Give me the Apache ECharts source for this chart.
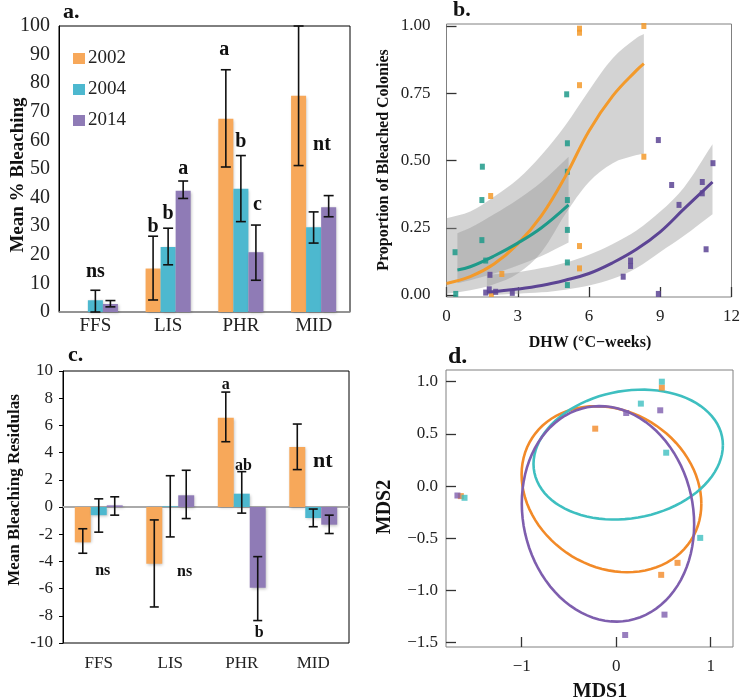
<!DOCTYPE html>
<html>
<head>
<meta charset="utf-8">
<script src="https://cdn.jsdelivr.net/npm/echarts@6/dist/echarts.min.js"></script>
<style>
  html, body { margin: 0; padding: 0; background: #fff; }
  #main { width: 743px; height: 699px; }
</style>
</head>
<body>
<div id="main"></div>
<script>
// ---- data ----
const sites = ['FFS', 'LIS', 'PHR', 'MID'];
const years = ['2002', '2004', '2014'];

// a. mean % bleaching
const pct2002 = [null, 15.2, 67.6, 75.6];
const pct2004 = [4.1, 22.7, 43.1, 29.6];
const pct2014 = [2.8, 42.4, 20.9, 36.6];
const pctLow2002 = [null, 4.2, 50.7, 51.2];
const pctHigh2002 = [null, 26.5, 84.7, 100];
const pctLow2004 = [0, 16.5, 31.6, 24.1];
const pctHigh2004 = [7.6, 29.3, 54.7, 35.0];
const pctLow2014 = [1.8, 39.7, 11.1, 33.3];
const pctHigh2014 = [4.0, 45.8, 30.4, 40.7];
// [site, bar slot, value, text]
const pctNotes = [
  ['FFS', 0, 14, 'ns'], ['LIS', -1, 29.7, 'b'], ['LIS', 0, 34.4, 'b'], ['LIS', 1, 50.1, 'a'],
  ['PHR', -1.1, 91.5, 'a'], ['PHR', 0, 59.4, 'b'], ['PHR', 1.1, 37.6, 'c'], ['MID', 0.55, 58.3, 'nt']
];

// c. mean bleaching residuals
const res2002 = [-2.6, -4.17, 6.57, 4.41];
const res2004 = [-0.6, 0.05, 0.98, -0.81];
const res2014 = [0.12, 0.86, -5.93, -1.3];
const resLow2002 = [-3.4, -7.35, 4.8, 2.75];
const resHigh2002 = [-1.6, -0.95, 8.45, 6.1];
const resLow2004 = [-1.85, -2.2, -0.45, -1.45];
const resHigh2004 = [0.6, 2.3, 2.6, -0.15];
const resLow2014 = [-0.6, -0.85, -8.35, -1.95];
const resHigh2014 = [0.75, 2.7, -3.65, -0.6];
const resNotes = [
  ['FFS', 0.25, -4.66, 'ns'], ['LIS', 0.9, -4.78, 'ns'], ['PHR', -1, 8.95, 'a'],
  ['PHR', 0.1, 3.06, 'ab'], ['PHR', 1.1, -9.26, 'b'], ['MID', 0.6, 3.38, 'nt']
];

// b. proportion of bleached colonies vs DHW
const dhw2002 = [5.6, 5.6, 8.31, 5.6, 8.31, 1.86, 5.6, 5.6, 2.33, 1.89];
const prop2002 = [0.99, 0.975, 1.0, 0.78, 0.514, 0.368, 0.182, 0.099, 0.078, 0.004];
const dhw2004 = [5.06, 5.09, 1.51, 1.49, 5.09, 5.09, 5.09, 1.49, 0.36, 1.65, 5.09, 5.09, 0.39];
const prop2004 = [0.746, 0.564, 0.477, 0.353, 0.458, 0.353, 0.242, 0.204, 0.159, 0.128, 0.121, 0.037, 0.004];
const dhw2014 = [8.92, 11.22, 10.77, 9.48, 9.79, 10.77, 10.93, 7.75, 7.75, 7.44, 1.83, 1.8, 1.65, 2.07, 2.77, 8.92];
const prop2014 = [0.576, 0.49, 0.42, 0.409, 0.335, 0.378, 0.17, 0.128, 0.108, 0.068, 0.075, 0.021, 0.009, 0.012, 0.008, 0.004];

// fitted curves and confidence bands
const fitX2002 = [0, 1, 2, 3, 4, 5, 6, 7, 8, 8.31];
const fitY2002 = [0.043, 0.068, 0.115, 0.19, 0.295, 0.44, 0.61, 0.74, 0.835, 0.86];
const bandLow2002 = [0.005, 0.018, 0.04, 0.08, 0.16, 0.3, 0.42, 0.49, 0.52, 0.525];
const bandHigh2002 = [0.285, 0.31, 0.365, 0.43, 0.52, 0.63, 0.76, 0.88, 0.955, 0.97];
const fitX2004 = [0.46, 1, 2, 3, 4, 5.14];
const fitY2004 = [0.093, 0.105, 0.145, 0.193, 0.25, 0.335];
const bandLow2004 = [0.044, 0.055, 0.08, 0.11, 0.145, 0.195];
const bandHigh2004 = [0.23, 0.25, 0.3, 0.355, 0.42, 0.514];
const fitX2014 = [1.7, 3, 4, 5, 6, 7, 8, 9, 10, 11.2];
const fitY2014 = [0.01, 0.022, 0.035, 0.055, 0.08, 0.12, 0.17, 0.235, 0.32, 0.42];
const bandLow2014 = [0, 0.005, 0.01, 0.02, 0.035, 0.06, 0.1, 0.16, 0.22, 0.3];
const bandHigh2014 = [0.075, 0.085, 0.1, 0.12, 0.15, 0.19, 0.24, 0.31, 0.4, 0.56];

// d. MDS ordination
const mds1_2002 = [0.483, -0.222, 0.649, 0.476, -1.644];
const mds2_2002 = [0.943, 0.55, -0.735, -0.85, -0.096];
const mds1_2004 = [0.483, 0.261, 0.529, 0.889, -1.605];
const mds2_2004 = [1.0, 0.79, 0.32, -0.496, -0.112];
const mds1_2014 = [0.106, 0.466, 0.511, 0.095, -1.68];
const mds2_2014 = [0.70, 0.726, -1.231, -1.426, -0.09];
// ellipse: centre, half width, half height, y shift of the rightmost point
const ellCx = [-0.05, 0.127, -0.087];
const ellCy = [-0.03, 0.302, -0.266];
const ellRx = [0.951, 1.002, 0.912];
const ellRy = [0.795, 0.622, 1.032];
const ellTilt = [-0.14, 0.09, -0.10];

const barCols = ['#F7A85A', '#4DB8CF', '#8F7BB6'];
const fitCols = ['#F39A2B', '#1E9A8A', '#5C4494'];
const mdsCols = ['#F28A28', '#3EBFC0', '#7E5EAE'];
const serif = 'Liberation Serif';

const chart = echarts.init(document.getElementById('main'));

const zip = (a, b) => a.map((v, i) => [v, b[i]]);

function errorData(lows, highs, step) {
  const out = [];
  lows.forEach((lo, j) => {
    lo.forEach((v, i) => {
      if (v != null) out.push([i + (j - 1) * step, v, highs[j][i]]);
    });
  });
  return out;
}

function errorSeries(xi, yi, data, cap) {
  return {
    type: 'custom', xAxisIndex: xi, yAxisIndex: yi, data: data, silent: true, z: 5,
    encode: { x: 0, y: [1, 2] },
    renderItem: function (params, api) {
      const x = api.value(0);
      const p1 = api.coord([x, api.value(1)]);
      const p2 = api.coord([x, api.value(2)]);
      const st = { stroke: '#111', lineWidth: 1.6 };
      return {
        type: 'group', children: [
          { type: 'line', shape: { x1: p1[0], y1: p1[1], x2: p2[0], y2: p2[1] }, style: st },
          { type: 'line', shape: { x1: p1[0] - cap, y1: p1[1], x2: p1[0] + cap, y2: p1[1] }, style: st },
          { type: 'line', shape: { x1: p2[0] - cap, y1: p2[1], x2: p2[0] + cap, y2: p2[1] }, style: st }
        ]
      };
    }
  };
}

function noteSeries(xi, yi, notes, step, sizeFn) {
  return {
    type: 'custom', xAxisIndex: xi, yAxisIndex: yi, silent: true, z: 6,
    data: notes.map(n => [sites.indexOf(n[0]) + n[1] * step, n[2]]),
    renderItem: function (params, api) {
      const p = api.coord([api.value(0), api.value(1)]);
      const txt = notes[params.dataIndex][3];
      return {
        type: 'text', x: p[0], y: p[1],
        style: { text: txt, align: 'center', verticalAlign: 'middle',
          font: 'bold ' + sizeFn(txt) + 'px "' + serif + '"', fill: '#111' }
      };
    }
  };
}

// confidence band as one smoothed polygon; end points doubled so the ends stay straight
function bandSeries(xs, lo, hi) {
  return {
    type: 'custom', xAxisIndex: 2, yAxisIndex: 1, silent: true, z: 1,
    data: xs.map((x, i) => [x, lo[i], hi[i]]),
    encode: { x: 0, y: [1, 2] },
    renderItem: function (params, api) {
      if (params.dataIndex !== 0) return null;
      const n = xs.length;
      const pts = [];
      for (let i = 0; i < n; i++) {
        const p = api.coord([xs[i], hi[i]]);
        pts.push(p);
        if (i === 0 || i === n - 1) pts.push(p.slice());
      }
      for (let i = n - 1; i >= 0; i--) {
        const p = api.coord([xs[i], lo[i]]);
        pts.push(p);
        if (i === 0 || i === n - 1) pts.push(p.slice());
      }
      return { type: 'polygon', shape: { points: pts, smooth: 0.35 },
        style: { fill: 'rgba(150,150,150,0.42)' } };
    }
  };
}

function ellipseSeries(k) {
  return {
    type: 'custom', xAxisIndex: 6, yAxisIndex: 3, silent: true, z: 3,
    data: [[ellCx[k], ellCy[k]]],
    renderItem: function (params, api) {
      const pts = [];
      const ry2 = Math.sqrt(ellRy[k] * ellRy[k] - ellTilt[k] * ellTilt[k]);
      for (let t = 0; t <= 90; t++) {
        const a = t / 90 * Math.PI * 2;
        pts.push(api.coord([ellCx[k] + ellRx[k] * Math.cos(a),
          ellCy[k] + ellTilt[k] * Math.cos(a) + ry2 * Math.sin(a)]));
      }
      return { type: 'polyline', shape: { points: pts },
        style: { stroke: mdsCols[k], lineWidth: 2.6, fill: null } };
    }
  };
}

const lbl = (size, margin) => ({ fontFamily: serif, fontSize: size, color: '#222', margin: margin });
const hiddenVal = (grid) => ({ type: 'value', gridIndex: grid, min: -0.5, max: 3.5, show: false,
  position: 'top', axisLine: { onZero: false } });

const stepA = (1 - 0.38) / 3;
const stepC = (1 - 0.33) / 3;
const barShadow = { shadowBlur: 3, shadowColor: 'rgba(0,0,0,0.25)', shadowOffsetX: 1, shadowOffsetY: 1 };

const option = {
  animation: false,
  textStyle: { fontFamily: serif },
  grid: [
    { left: 59, top: 26, width: 291, height: 286, show: true, borderColor: '#000', borderWidth: 1 },
    { left: 446.5, top: 24, width: 286.5, height: 273, show: true, borderColor: '#808080', borderWidth: 1 },
    { left: 63, top: 371, width: 286, height: 272, show: true, borderColor: '#000', borderWidth: 1 },
    { left: 446, top: 370, width: 287, height: 277, show: true, borderColor: '#808080', borderWidth: 1 }
  ],
  legend: {
    left: 68, top: 44, orient: 'vertical', itemWidth: 12, itemHeight: 11, itemGap: 12,
    icon: 'rect', data: years, selectedMode: false,
    textStyle: { fontFamily: serif, fontSize: 19, color: '#222', padding: [4, 0, 0, -2] }
  },
  xAxis: [
    { type: 'category', gridIndex: 0, data: sites, position: 'bottom',
      axisLine: { onZero: false, lineStyle: { color: '#9a9a9a', width: 1.5 } },
      axisTick: { length: 5, lineStyle: { color: '#9a9a9a' } }, axisLabel: lbl(19, 5) },
    hiddenVal(0),
    { type: 'value', gridIndex: 1, min: 0, max: 12, interval: 3, position: 'bottom',
      axisLine: { show: false, onZero: false }, splitLine: { show: false },
      axisTick: { inside: true, length: 10, lineStyle: { color: '#333', width: 1.3 } },
      axisLabel: lbl(17, 11) },
    { type: 'category', gridIndex: 2, data: sites, position: 'bottom',
      axisLine: { onZero: true, lineStyle: { color: '#aaa', width: 2 } },
      axisTick: { length: 4, lineStyle: { color: '#aaa', width: 1.5 } }, axisLabel: { show: false } },
    { type: 'category', gridIndex: 2, data: sites, position: 'bottom',
      axisLine: { show: false, onZero: false }, axisTick: { show: false }, axisLabel: lbl(17, 12) },
    hiddenVal(2),
    { type: 'value', gridIndex: 3, min: -1.801, max: 1.236, position: 'bottom',
      axisLine: { show: false, onZero: false }, splitLine: { show: false },
      axisTick: { inside: true, length: 10, customValues: [-1, 0, 1], lineStyle: { color: '#333', width: 1.3 } },
      axisLabel: Object.assign(lbl(17, 11), { customValues: [-1, 0, 1],
        formatter: v => (v < 0 ? '\u2212' : '') + Math.abs(v).toFixed(0) }) }
  ],
  yAxis: [
    { type: 'value', gridIndex: 0, min: 0, max: 100, interval: 10,
      axisLine: { show: true, onZero: false, lineStyle: { color: '#000' } },
      axisTick: { show: false }, splitLine: { show: false }, axisLabel: lbl(20, 9) },
    { type: 'value', gridIndex: 1, min: -0.0074, max: 1.0074,
      axisLine: { show: false, onZero: false }, splitLine: { show: false },
      axisTick: { inside: true, length: 10, customValues: [0, 0.25, 0.5, 0.75, 1],
        lineStyle: { color: '#333', width: 1.3 } },
      axisLabel: Object.assign(lbl(17, 16), { customValues: [0, 0.25, 0.5, 0.75, 1],
        formatter: v => v.toFixed(2) }) },
    { type: 'value', gridIndex: 2, min: -10, max: 10, interval: 2,
      axisLine: { show: true, onZero: false, lineStyle: { color: '#000' } },
      axisTick: { show: true, length: 4, lineStyle: { color: '#000' } },
      splitLine: { show: false }, axisLabel: lbl(17, 10) },
    { type: 'value', gridIndex: 3, min: -1.541, max: 1.112,
      axisLine: { show: false, onZero: false }, splitLine: { show: false },
      axisTick: { inside: true, length: 10, customValues: [-1.5, -1, -0.5, 0, 0.5, 1],
        lineStyle: { color: '#333', width: 1.3 } },
      axisLabel: Object.assign(lbl(17, 8), { customValues: [-1.5, -1, -0.5, 0, 0.5, 1],
        formatter: v => (v < 0 ? '\u2212' : '') + Math.abs(v).toFixed(1) }) }
  ],
  series: [
    // a.
    { name: '2002', type: 'bar', xAxisIndex: 0, yAxisIndex: 0, data: pct2002, barGap: '0%',
      barCategoryGap: '38%', itemStyle: Object.assign({ color: barCols[0] }, barShadow) },
    { name: '2004', type: 'bar', xAxisIndex: 0, yAxisIndex: 0, data: pct2004,
      itemStyle: Object.assign({ color: barCols[1] }, barShadow) },
    { name: '2014', type: 'bar', xAxisIndex: 0, yAxisIndex: 0, data: pct2014,
      itemStyle: Object.assign({ color: barCols[2] }, barShadow) },
    errorSeries(1, 0, errorData([pctLow2002, pctLow2004, pctLow2014],
      [pctHigh2002, pctHigh2004, pctHigh2014], stepA), 5),
    noteSeries(1, 0, pctNotes, stepA, t => 20),
    // c.
    { name: 'r2002', type: 'bar', xAxisIndex: 3, yAxisIndex: 2, data: res2002, barGap: '0%',
      barCategoryGap: '33%', itemStyle: Object.assign({ color: barCols[0] }, barShadow) },
    { name: 'r2004', type: 'bar', xAxisIndex: 3, yAxisIndex: 2, data: res2004,
      itemStyle: Object.assign({ color: barCols[1] }, barShadow) },
    { name: 'r2014', type: 'bar', xAxisIndex: 3, yAxisIndex: 2, data: res2014,
      itemStyle: Object.assign({ color: barCols[2] }, barShadow) },
    errorSeries(5, 2, errorData([resLow2002, resLow2004, resLow2014],
      [resHigh2002, resHigh2004, resHigh2014], stepC), 4.5),
    noteSeries(5, 2, resNotes, stepC, t => (t === 'nt' ? 22 : 16)),
    // b.
    bandSeries(fitX2002, bandLow2002, bandHigh2002),
    bandSeries(fitX2004, bandLow2004, bandHigh2004),
    bandSeries(fitX2014, bandLow2014, bandHigh2014),
    { type: 'scatter', xAxisIndex: 2, yAxisIndex: 1, data: zip(dhw2002, prop2002), symbol: 'rect',
      symbolSize: [5, 6], itemStyle: { color: fitCols[0], opacity: 0.85 }, clip: false, z: 2 },
    { type: 'scatter', xAxisIndex: 2, yAxisIndex: 1, data: zip(dhw2004, prop2004), symbol: 'rect',
      symbolSize: [5, 6], itemStyle: { color: fitCols[1], opacity: 0.85 }, clip: false, z: 2 },
    { type: 'scatter', xAxisIndex: 2, yAxisIndex: 1, data: zip(dhw2014, prop2014), symbol: 'rect',
      symbolSize: [5, 6], itemStyle: { color: fitCols[2], opacity: 0.85 }, clip: false, z: 2 },
    { type: 'line', xAxisIndex: 2, yAxisIndex: 1, data: zip(fitX2002, fitY2002), smooth: 0.4,
      symbol: 'none', lineStyle: { color: fitCols[0], width: 3 }, z: 3 },
    { type: 'line', xAxisIndex: 2, yAxisIndex: 1, data: zip(fitX2004, fitY2004), smooth: 0.4,
      symbol: 'none', lineStyle: { color: fitCols[1], width: 3 }, z: 3 },
    { type: 'line', xAxisIndex: 2, yAxisIndex: 1, data: zip(fitX2014, fitY2014), smooth: 0.4,
      symbol: 'none', lineStyle: { color: fitCols[2], width: 3 }, z: 3 },
    // d.
    ellipseSeries(0), ellipseSeries(1), ellipseSeries(2),
    { type: 'scatter', xAxisIndex: 6, yAxisIndex: 3, data: zip(mds1_2002, mds2_2002), symbol: 'rect',
      symbolSize: [6, 6], itemStyle: { color: mdsCols[0] }, clip: false, z: 4 },
    { type: 'scatter', xAxisIndex: 6, yAxisIndex: 3, data: zip(mds1_2014, mds2_2014), symbol: 'rect',
      symbolSize: [6, 6], itemStyle: { color: mdsCols[2] }, clip: false, z: 4 },
    { type: 'scatter', xAxisIndex: 6, yAxisIndex: 3, data: zip(mds1_2004, mds2_2004), symbol: 'rect',
      symbolSize: [6, 6], itemStyle: { color: mdsCols[1] }, clip: false, z: 4 }
  ],
  graphic: [
    { type: 'text', x: 63, y: 12.5, style: { text: 'a.', font: 'bold 22px "Liberation Serif"', fill: '#111', verticalAlign: 'middle' } },
    { type: 'text', x: 453, y: 10.5, style: { text: 'b.', font: 'bold 22px "Liberation Serif"', fill: '#111', verticalAlign: 'middle' } },
    { type: 'text', x: 68, y: 355.5, style: { text: 'c.', font: 'bold 22px "Liberation Serif"', fill: '#111', verticalAlign: 'middle' } },
    { type: 'text', x: 448, y: 357, style: { text: 'd.', font: 'bold 24px "Liberation Serif"', fill: '#111', verticalAlign: 'middle' } },
    { type: 'text', x: 18, y: 175, rotation: Math.PI / 2,
      style: { text: 'Mean % Bleaching', font: 'bold 19px "Liberation Serif"', fill: '#111', align: 'center', verticalAlign: 'middle' } },
    { type: 'text', x: 384, y: 160, rotation: Math.PI / 2,
      style: { text: 'Proportion of Bleached Colonies', font: 'bold 16px "Liberation Serif"', fill: '#111', align: 'center', verticalAlign: 'middle' } },
    { type: 'text', x: 590, y: 343,
      style: { text: 'DHW (\u00B0C\u2212weeks)', font: 'bold 16px "Liberation Serif"', fill: '#111', align: 'center', verticalAlign: 'middle' } },
    { type: 'text', x: 15, y: 490, rotation: Math.PI / 2,
      style: { text: 'Mean Bleaching Residulas', font: 'bold 17px "Liberation Serif"', fill: '#111', align: 'center', verticalAlign: 'middle' } },
    { type: 'text', x: 385, y: 507, rotation: Math.PI / 2,
      style: { text: 'MDS2', font: 'bold 20px "Liberation Serif"', fill: '#111', align: 'center', verticalAlign: 'middle' } },
    { type: 'text', x: 600, y: 692,
      style: { text: 'MDS1', font: 'bold 20px "Liberation Serif"', fill: '#111', align: 'center', verticalAlign: 'middle' } }
  ]
};

chart.setOption(option);
</script>
</body>
</html>
